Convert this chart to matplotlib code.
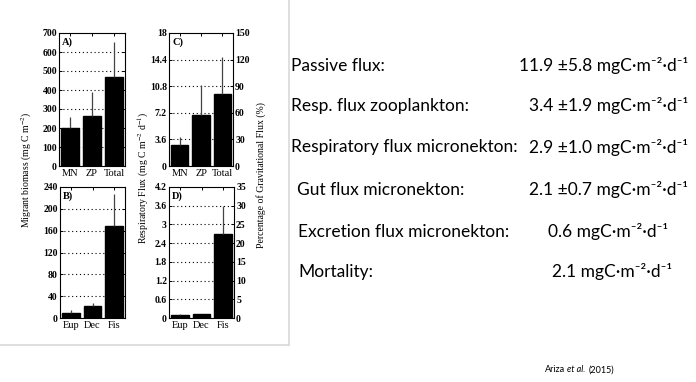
import matplotlib
matplotlib.use('Agg')
import matplotlib.pyplot as plt
from matplotlib.lines import Line2D
import numpy as np

plt.rcParams['font.family'] = ['Liberation Serif']
plt.rcParams['mathtext.fontset'] = 'stix'

# data
cats_top = ['MN', 'ZP', 'Total']
cats_bot = ['Eup', 'Dec', 'Fis']

biomass = [200, 265, 470]
biomass_err = [60, 125, 185]
biomass_layer = [10, 22, 168]
biomass_layer_err = [5, 5, 59]

resp = [2.9, 6.9, 9.8]
resp_err = [1.0, 4.1, 4.9]
resp_layer = [0.1, 0.14, 2.7]
resp_layer_err = [0.04, 0.0, 0.9]

a_ticks = [0, 100, 200, 300, 400, 500, 600, 700]
b_ticks = [0, 40, 80, 120, 160, 200, 240]
c_ticks = [0, 3.6, 7.2, 10.8, 14.4, 18]
c_labels = ['0', '3.6', '7.2', '10.8', '14.4', '18']
c_right = [0, 30, 60, 90, 120, 150]
d_ticks = [0, 0.6, 1.2, 1.8, 2.4, 3.0, 3.6, 4.2]
d_labels = ['0', '0.6', '1.2', '1.8', '2.4', '3', '3.6', '4.2']
d_right = [0, 5, 10, 15, 20, 25, 30, 35]

row_labels = ['Passive flux:', 'Resp. flux zooplankton:', 'Respiratory flux micronekton:',
              'Gut flux micronekton:', 'Excretion flux micronekton:', 'Mortality:']
row_values = ['11.9 \u00b15.8 mgC\u00b7m\u207b\u00b2\u00b7d\u207b\u00b9',
              '3.4 \u00b11.9 mgC\u00b7m\u207b\u00b2\u00b7d\u207b\u00b9',
              '2.9 \u00b11.0 mgC\u00b7m\u207b\u00b2\u00b7d\u207b\u00b9',
              '2.1 \u00b10.7 mgC\u00b7m\u207b\u00b2\u00b7d\u207b\u00b9',
              '0.6 mgC\u00b7m\u207b\u00b2\u00b7d\u207b\u00b9',
              '2.1 mgC\u00b7m\u207b\u00b2\u00b7d\u207b\u00b9']


def bar_panel(ax, vals, errs, cats, ticks, labels, tag):
    x = np.arange(1, len(vals) + 1)
    ax.bar(x, vals, width=0.82, color='black', edgecolor='black', zorder=2)
    ax.errorbar(x, vals, yerr=[np.zeros(len(errs)), errs], fmt='none',
                ecolor='#444444', elinewidth=0.9, capsize=0, zorder=3)
    ax.set_xlim(0.5, len(vals) + 0.5)
    ax.set_ylim(ticks[0], ticks[-1])
    ax.set_yticks(ticks)
    ax.set_yticklabels(labels)
    ax.set_xticks(x)
    ax.set_xticklabels(cats)
    for t in ticks[1:-1]:
        ax.axhline(t, color='black', linestyle=(0, (1, 2.5)), linewidth=0.8, zorder=1)
    ax.tick_params(direction='in', length=2.5, width=0.7, labelsize=7, pad=1.5,
                   top=True, right=True)
    ax.tick_params(axis='x', labelsize=7.5, pad=2)
    for lab in ax.get_yticklabels():
        lab.set_fontweight('bold')
    for s in ax.spines.values():
        s.set_linewidth(0.8)
    ax.text(0.05, 0.97, tag, transform=ax.transAxes, ha='left', va='top',
            fontsize=7.5, fontweight='bold')


fig = plt.figure(figsize=(6.96, 3.82), dpi=100)
W, H = 696, 382


def rect(l, t, r, b):
    return [l / W, 1 - b / H, (r - l) / W, (b - t) / H]


axA = fig.add_axes(rect(59, 33, 125, 166))
axB = fig.add_axes(rect(60, 187, 125, 318))
axC = fig.add_axes(rect(169, 33, 233, 166))
axD = fig.add_axes(rect(169, 187, 234, 318))

bar_panel(axA, biomass, biomass_err, cats_top, a_ticks, [str(t) for t in a_ticks], 'A)')
bar_panel(axB, biomass_layer, biomass_layer_err, cats_bot, b_ticks, [str(t) for t in b_ticks], 'B)')
bar_panel(axC, resp, resp_err, cats_top, c_ticks, c_labels, 'C)')
bar_panel(axD, resp_layer, resp_layer_err, cats_bot, d_ticks, d_labels, 'D)')

for ax, rt in [(axC, c_right), (axD, d_right)]:
    tw = ax.twinx()
    tw.set_ylim(rt[0], rt[-1])
    tw.set_yticks(rt)
    tw.tick_params(direction='in', length=2.5, width=0.7, labelsize=7, pad=1.5)
    for lab in tw.get_yticklabels():
        lab.set_fontweight('bold')
    for s in tw.spines.values():
        s.set_visible(False)

fig.text(27 / W, 1 - 170 / H, 'Migrant biomass (mg C m$^{-2}$)', rotation=90,
         ha='center', va='center', fontsize=7)
fig.text(143 / W, 1 - 178 / H, 'Respiratory Flux (mg C m$^{-2}$ d$^{-1}$)', rotation=90,
         ha='center', va='center', fontsize=7)
fig.text(261 / W, 1 - 175 / H, 'Percentage of Gravitational Flux (%)', rotation=90,
         ha='center', va='center', fontsize=7)

# light frame around the figure panel
fig.add_artist(Line2D([289 / W, 289 / W], [1 - 345 / H, 1.0], transform=fig.transFigure,
                      color='#d9d9d9', linewidth=1.2))
fig.add_artist(Line2D([0, 289 / W], [1 - 345 / H, 1 - 345 / H], transform=fig.transFigure,
                      color='#d9d9d9', linewidth=1.2))

row_y = [66, 106, 147, 190, 232, 272]
label_x = [291, 291, 291, 297, 298, 298]
value_x = [688, 688, 688, 688, 668, 672]
fam = ['Lato', 'DejaVu Sans']
for lab, val, y, lx, vx in zip(row_labels, row_values, row_y, label_x, value_x):
    fig.text(lx / W, 1 - y / H, lab, ha='left', va='center', fontsize=12.5, family=fam)
    fig.text(vx / W, 1 - y / H, val, ha='right', va='center', fontsize=12.5, family=fam)

# citation
fig.text(545 / W, 1 - 370 / H, 'Ariza', ha='left', va='center', fontsize=6.5, family=fam)
fig.text(567 / W, 1 - 370 / H, 'et al.', ha='left', va='center', fontsize=6.5,
         family=fam, style='italic')
fig.text(589 / W, 1 - 370 / H, '(2015)', ha='left', va='center', fontsize=6.5, family=fam)

fig.savefig('out.png', dpi=100)
